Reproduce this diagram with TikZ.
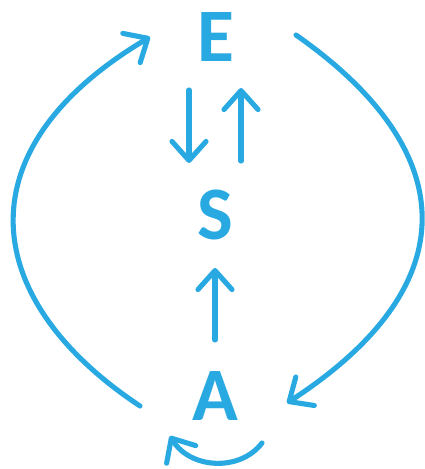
\documentclass[tikz,border=0pt]{standalone}
\usepackage{fontspec}
\setmainfont{Carlito}
\usepackage{tikz}
\usetikzlibrary{positioning,calc,arrows.meta}
\definecolor{esablue}{HTML}{29A9E1}

\begin{document}
\begin{tikzpicture}[
  x=0.02cm, y=-0.02cm,
  letter/.style={text=esablue, font=\fontsize{43}{43}\selectfont\bfseries, inner sep=0pt},
  arr/.style={draw=esablue, line width=2.9pt, line cap=round, line join=round,
    -{Straight Barb[length=3.8mm, width=6.8mm, line cap=round, line join=round]}},
]
\useasboundingbox (0,0) rectangle (424,469);
% the three letters
\node[letter] (E) at (216,37)  {E};
\node[letter] (S) at (215,215) {S};
\node[letter] (A) at (215,396) {A};
% E <-> S and A -> S
\draw[arr] ($(E)+(-27,53)$) -- ($(S)+(-26,-52)$);
\draw[arr] ($(S)+(26,-54)$) -- ($(E)+(25,51)$);
\draw[arr] ($(A)+(0,-56)$) -- ($(S)+(0,53)$);
% outer loop
\draw[arr] ($(A)+(-75,10)$) .. controls (-20,300) and (-40,150) .. ($(E)+(-66,0)$);
\draw[arr] ($(E)+(80,-2)$) .. controls (463,152) and (467,286) .. ($(A)+(72,7)$);
% A back to itself
\draw[arr] ($(A)+(47,47)$) .. controls (240,472) and (190,469) .. ($(A)+(-45,40)$);
\end{tikzpicture}
\end{document}
